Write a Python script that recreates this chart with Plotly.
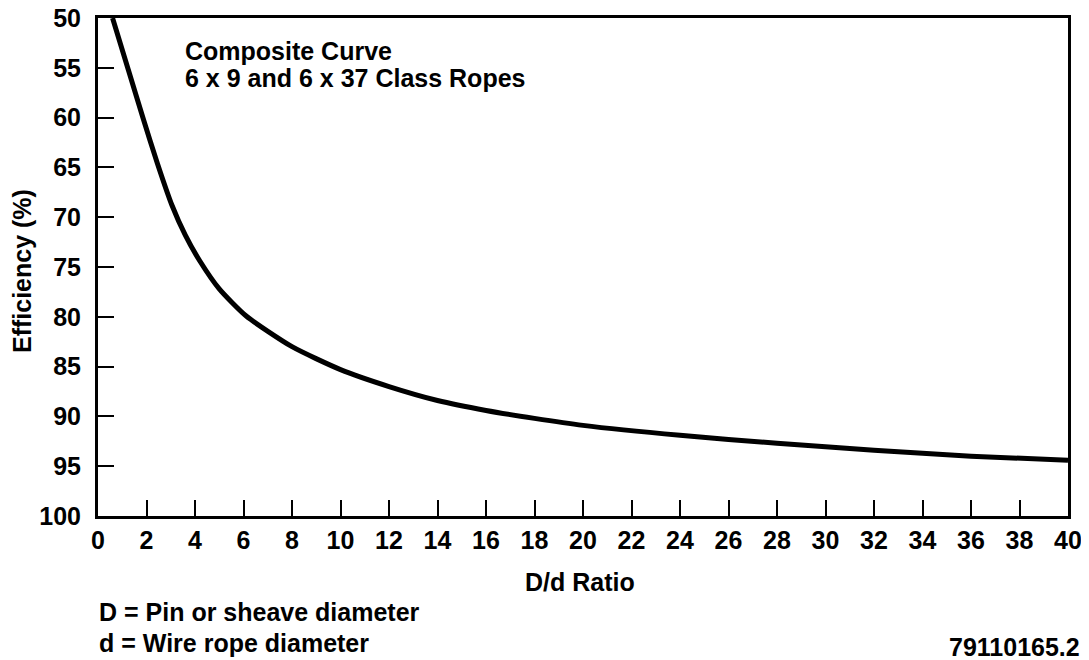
import plotly.graph_objects as go

# Data
dd_ratio = [0.6, 1.25, 1.85, 2.45, 3.05, 3.6, 4.2, 5, 6.1, 8, 10, 12, 14, 16, 18, 20, 24, 28, 32, 36, 40]
efficiency = [50, 55.2, 60, 64.6, 68.8, 71.8, 74.4, 77.2, 79.9, 83.0, 85.3, 87.0, 88.4, 89.4, 90.2, 90.9,
              91.9, 92.7, 93.4, 94.0, 94.4]

x_ticks = list(range(0, 41, 2))
y_ticks = list(range(50, 101, 5))

FONT = "Liberation Sans, Arial, Helvetica, sans-serif"

# The page body adds an 8px offset; size the figure to fill the rest of the 1089x660 window
OFF = 8
W, H = 1089 - OFF, 660 - OFF
# plot-area edges in window pixels
L0, R0, T0, B0 = 98, 1068, 18, 516
L, R, T, B = L0 - OFF, R0 - OFF, T0 - OFF, B0 - OFF

def px(x):
    return (x - OFF - L) / (R - L)

def py(y):
    return (B - (y - OFF)) / (B - T)

fig = go.Figure()
fig.add_trace(go.Scatter(
    x=dd_ratio, y=efficiency, mode="lines",
    line=dict(color="black", width=5, shape="spline", smoothing=0.6),
    hoverinfo="skip", showlegend=False,
))

axis_common = dict(
    showline=True, linecolor="black", linewidth=3, mirror=True,
    showgrid=False, zeroline=False, automargin=False,
    ticks="inside", ticklen=16, tickwidth=2, tickcolor="black",
    ticklabeloverflow="allow",
    tickfont=dict(family=FONT, size=25, color="black", weight="bold"),
)

fig.update_xaxes(range=[0, 40], tickvals=x_ticks, ticktext=[str(v) for v in x_ticks], **axis_common)
fig.update_yaxes(range=[100, 50], tickvals=y_ticks, ticktext=[str(v) for v in y_ticks],
                 ticklabelstandoff=9, **axis_common)

annots = [
    dict(text="Composite Curve", x=px(183), y=py(51), xanchor="left", yanchor="middle"),
    dict(text="6 x 9 and 6 x 37 Class Ropes", x=px(183), y=py(78), xanchor="left", yanchor="middle"),
    dict(text="D/d Ratio", x=px(580), y=py(582), xanchor="center", yanchor="middle"),
    dict(text="D = Pin or sheave diameter", x=px(97), y=py(612), xanchor="left", yanchor="middle"),
    dict(text="d = Wire rope diameter", x=px(97), y=py(643), xanchor="left", yanchor="middle"),
    dict(text="79110165.2", x=px(1082), y=py(647), xanchor="right", yanchor="middle"),
    dict(text="Efficiency (%)", x=px(22), y=py(271), xanchor="center", yanchor="middle", textangle=-90),
]
for a in annots:
    fig.add_annotation(xref="paper", yref="paper", showarrow=False,
                       font=dict(family=FONT, size=25, color="black", weight="bold"), **a)

fig.update_layout(
    width=W, height=H,
    margin=dict(l=L, r=W - R, t=T, b=H - B, autoexpand=False),
    paper_bgcolor="white", plot_bgcolor="white",
    showlegend=False,
)

fig.write_html("out.html")
